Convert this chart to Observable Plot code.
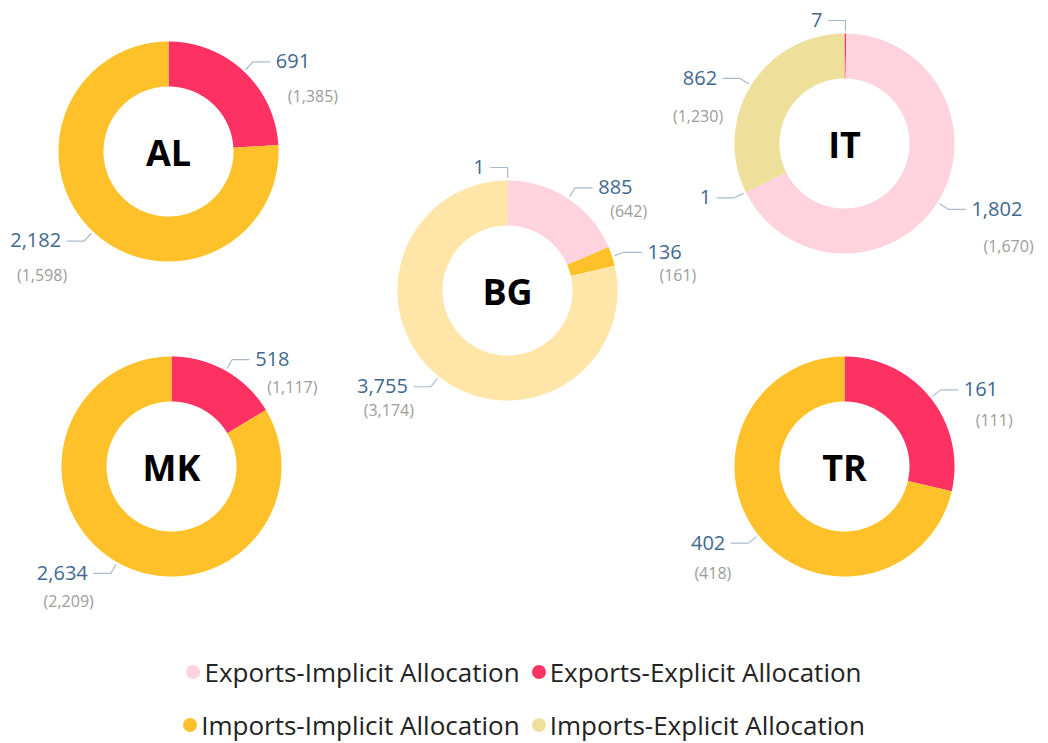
<!DOCTYPE html>
<html><head><meta charset="utf-8">
<script src="https://cdn.jsdelivr.net/npm/d3@7"></script>
<script src="https://cdn.jsdelivr.net/npm/@observablehq/plot@0.6"></script>
<style>
html,body{margin:0;padding:0;background:#fff;}
body{font-family:"Open Sans","Noto Sans",sans-serif;width:1048px;}
#legend{margin-top:5px;}
.lrow{display:flex;justify-content:center;align-items:center;height:53px;}
.litem{display:flex;align-items:center;margin:0 6px;font-size:26px;color:#222;}
.ldot{width:14px;height:14px;border-radius:50%;margin-right:4px;display:inline-block;}
</style></head>
<body>
<div id="chart"></div>
<div id="legend"></div>
<script>
// ---- data ----
const countries = ["AL", "BG", "IT", "MK", "TR"];
const categories = ["Exports-Implicit Allocation", "Exports-Explicit Allocation", "Imports-Implicit Allocation", "Imports-Explicit Allocation"];
const categoryColors = ["#FFD3DD", "#FE3262", "#FFC12A", "#EEDF9A"];
const sliceCountry  = ["AL","AL", "BG","BG","BG","BG", "IT","IT","IT","IT", "MK","MK", "TR","TR"];
const sliceCategory = [
  categories[1], categories[2],
  categories[1], categories[0], categories[2], categories[3],
  categories[1], categories[0], categories[2], categories[3],
  categories[1], categories[2],
  categories[1], categories[2]
];
const sliceValue    = [691, 2182, 1, 885, 136, 3755, 7, 1802, 1, 862, 518, 2634, 161, 402];
const slicePrevious = [1385, 1598, null, 642, 161, 3174, null, 1670, null, 1230, 1117, 2209, 111, 418];

// ---- layout ----
const W = 1048, H = 640;
const R_OUT = 110, R_IN = 65;
const layout = {
  AL: {cx: 168, cy: 151, parenDy: 35},
  BG: {cx: 507, cy: 290, parenDy: 24},
  IT: {cx: 844, cy: 143, parenDy: 38},
  MK: {cx: 171, cy: 466, parenDy: 28},
  TR: {cx: 844, cy: 466, parenDy: 31}
};
const deg = Math.PI / 180;
const fmt = d3.format(",");

const slices = sliceValue.map((v, i) => ({id: i, country: sliceCountry[i], category: sliceCategory[i], value: v, previous: slicePrevious[i]}));
const arcs = [];
for (const c of countries) {
  const rows = slices.filter(d => d.country === c);
  d3.pie().sort(null).value(d => d.value)(rows).forEach(p => arcs.push({...p.data, a0: p.startAngle, a1: p.endAngle}));
}
const pt = (c, r, a) => ({x: layout[c].cx + r * Math.sin(a), y: layout[c].cy - r * Math.cos(a)});

const ringPoints = [];
for (const s of arcs) {
  const n = Math.max(1, Math.ceil((s.a1 - s.a0) / (deg / 2)));
  for (let k = 0; k <= n; k++) { const a = s.a0 + (s.a1 - s.a0) * k / n; ringPoints.push({...pt(s.country, R_OUT, a), id: s.id, category: s.category, country: s.country}); }
  for (let k = n; k >= 0; k--) { const a = s.a0 + (s.a1 - s.a0) * k / n; ringPoints.push({...pt(s.country, R_IN, a), id: s.id, category: s.category, country: s.country}); }
}
const isPaleBG = d => d.country === "BG" && d.category === categories[3];

const leaders = [], labels = [];
for (const s of arcs) {
  const m = (s.a0 + s.a1) / 2;
  const right = m > 3 * deg && m < 180 * deg;
  const dir = right ? 1 : -1;
  const p0 = pt(s.country, R_OUT + 3, m), p1 = pt(s.country, R_OUT + 13, m);
  const p2 = {x: p1.x + dir * 17, y: p1.y};
  leaders.push({...p0, id: s.id}, {...p1, id: s.id}, {...p2, id: s.id});
  labels.push({x: p2.x + dir * 6, y: p2.y, right, text: fmt(s.value), previous: s.previous, country: s.country});
}
const parens = labels.filter(d => d.previous != null).map(d => ({
  x: d.right ? d.x + 12 : d.x + 6,
  y: d.y + layout[d.country].parenDy,
  right: d.right,
  text: "(" + fmt(d.previous) + ")"
}));
const centers = countries.map(c => ({x: layout[c].cx, y: layout[c].cy + 3, text: c}));

const valueFont = {fontSize: 20, fill: "#41698F"};
const parenFont = {fontSize: 16, fill: "#9C9C9C"};

const chart = Plot.plot({
  width: W, height: H, margin: 0,
  style: {fontFamily: "'Open Sans','Noto Sans',sans-serif", background: "#fff", overflow: "visible"},
  x: {domain: [0, W], range: [0, W], axis: null},
  y: {domain: [0, H], range: [0, H], axis: null},
  color: {domain: categories, range: categoryColors},
  marks: [
    Plot.line(ringPoints.filter(d => !isPaleBG(d)), {x: "x", y: "y", z: "id", fill: "category", stroke: null, curve: "linear-closed"}),
    Plot.line(ringPoints.filter(isPaleBG), {x: "x", y: "y", z: "id", fill: "#FFE6A8", stroke: null, curve: "linear-closed"}),
    Plot.line(leaders, {x: "x", y: "y", z: "id", stroke: "#A9BCCD", strokeWidth: 1.2}),
    Plot.text(labels.filter(d => d.right), {x: "x", y: "y", text: "text", textAnchor: "start", ...valueFont}),
    Plot.text(labels.filter(d => !d.right), {x: "x", y: "y", text: "text", textAnchor: "end", ...valueFont}),
    Plot.text(parens.filter(d => d.right), {x: "x", y: "y", text: "text", textAnchor: "start", ...parenFont}),
    Plot.text(parens.filter(d => !d.right), {x: "x", y: "y", text: "text", textAnchor: "end", ...parenFont}),
    Plot.text(centers, {x: "x", y: "y", text: "text", fontSize: 36, fontWeight: "bold", fill: "#000"})
  ]
});
document.getElementById("chart").appendChild(chart);

// legend
const legend = document.getElementById("legend");
[[0, 1], [2, 3]].forEach(row => {
  const r = document.createElement("div");
  r.className = "lrow";
  row.forEach(i => {
    const it = document.createElement("div");
    it.className = "litem";
    const dot = document.createElement("span");
    dot.className = "ldot";
    dot.style.background = categoryColors[i];
    it.appendChild(dot);
    it.appendChild(document.createTextNode(categories[i]));
    r.appendChild(it);
  });
  legend.appendChild(r);
});
</script>
</body></html>
